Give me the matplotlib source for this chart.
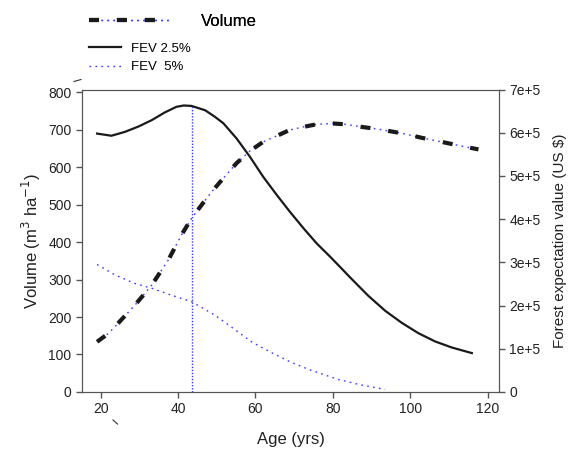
import numpy as np
import matplotlib
matplotlib.use('Agg')
import matplotlib.pyplot as plt
from matplotlib.lines import Line2D
from matplotlib.legend_handler import HandlerTuple
from matplotlib.ticker import FuncFormatter

plt.rcParams['font.family'] = ['Liberation Sans', 'DejaVu Sans']

# 数据
vol_age = [19.1, 22.0, 24.5, 28.9, 33.2, 37.5, 40.9, 43.5, 46.1, 48.7, 51.7, 55.1, 58.6, 62.0, 65.5, 68.9,
           72.4, 75.8, 80.1, 83.1, 87.4, 91.7, 97.8, 102.9, 109.0, 114.1, 117.6]
vol = [134, 156, 183, 232, 285, 352, 419, 463, 499, 534, 570, 610, 643, 667, 683, 699,
       707, 714, 716, 714, 707, 701, 690, 678, 665, 654, 647]

fev25_age = [19.1, 22.8, 26.3, 29.7, 33.2, 36.6, 39.6, 41.5, 43.5, 47.0, 49.5, 51.7, 55.1, 58.6, 62.0, 65.5, 68.9,
             72.4, 75.8, 79.3, 82.0, 84.9, 89.1, 93.5, 97.8, 102.1, 106.4, 110.7, 115.9]
fev25 = [598e3, 593e3, 602e3, 614e3, 629e3, 647e3, 660e3, 663e3, 662e3, 652e3, 637e3, 622e3, 587e3, 544e3, 498e3,
         456e3, 417e3, 379e3, 344e3, 313e3, 288e3, 261e3, 223e3, 188e3, 160e3, 136e3, 117e3, 103e3, 90e3]

fev5_age = [19.1, 23.7, 28.9, 33.2, 38.3, 43.5, 49.5, 54.3, 59.0, 63.7, 68.9, 74.1, 81.4, 87.4, 93.5]
fev5 = [295e3, 271e3, 251e3, 240e3, 224e3, 209e3, 178e3, 147e3, 116e3, 93e3, 70e3, 51e3, 29e3, 16e3, 6e3]

opt_age = 43.7   # 最优轮伐期

BLUE = '#3b3bff'
BLACK = '#1a1a1a'
vb_style = dict(color=BLUE, lw=1.0, linestyle=(0, (1.2, 3.1)))
vk_style = dict(color=BLACK, lw=3.0, linestyle=(0, (2.4, 4.3)))

fig = plt.figure(figsize=(5.75, 4.5), dpi=100)
ax = fig.add_axes([0.1426, 0.1289, 0.7252, 0.6722])
ax2 = ax.twinx()

# Volume：蓝色点线 + 黑色粗虚线
ax.plot(vol_age, vol, **vb_style)
ax.plot(vol_age, vol, **vk_style)

l_f25, = ax2.plot(fev25_age, fev25, color=BLACK, lw=1.6)
l_f5, = ax2.plot(fev5_age, fev5, **vb_style)
ax2.plot([opt_age, opt_age], [0, max(fev25)], color=BLUE, lw=1.0, linestyle=(0, (1, 1.2)))

ax.set_xlim(15.2, 122.9)
ax.set_ylim(0, 806.7)
ax2.set_ylim(0, 7e5)
ax.set_xticks(range(20, 121, 20))
ax.set_yticks(range(0, 801, 100))
ax2.set_yticks(np.arange(0, 7.01e5, 1e5))
ax2.yaxis.set_major_formatter(FuncFormatter(lambda v, p: '0' if v == 0 else '%de+5' % round(v / 1e5)))

for a in (ax, ax2):
    for s in a.spines.values():
        s.set_color('#555555')
    a.tick_params(direction='out', length=4, width=1, color='#555555', labelsize=10, labelcolor='#222222')

ax.set_xlabel('Age (yrs)', fontsize=12, color='#222222', labelpad=11)
ax.set_ylabel('Volume (m$^3$ ha$^{-1}$)', fontsize=12, color='#222222', labelpad=4)
ax2.set_ylabel('Forest expectation value (US $)', fontsize=11, color='#222222', labelpad=9)

# 图例（两条线叠在一起）
h_vol = (Line2D([], [], **vb_style), Line2D([], [], **vk_style))
leg1 = fig.legend([h_vol], ['Volume'], handler_map={tuple: HandlerTuple(ndivide=1, pad=0)},
                  loc='upper left', bbox_to_anchor=(0.155, 0.97), frameon=False, fontsize=12,
                  handlelength=4.9, handletextpad=1.8, borderpad=0, borderaxespad=0)
fig.add_artist(leg1)
fig.legend([l_f25, l_f5], ['FEV 2.5%', 'FEV  5%'], loc='upper left', bbox_to_anchor=(0.155, 0.905),
           frameon=False, fontsize=9.5, handlelength=2.4, handletextpad=0.8, labelspacing=0.45,
           borderpad=0, borderaxespad=0)

# 图上的小杂点
fig.add_artist(Line2D([74 / 575, 81 / 575], [1 - 81.5 / 450, 1 - 79.5 / 450], color='#333333', lw=0.8))
fig.add_artist(Line2D([113 / 575, 117.5 / 575], [1 - 420 / 450, 1 - 424 / 450], color='#333333', lw=0.8))

plt.savefig('out.png', dpi=100)
